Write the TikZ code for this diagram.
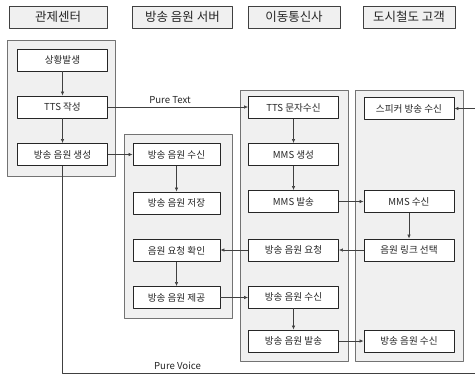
\documentclass[tikz,border=0pt]{standalone}
\usepackage{fontspec}
\setmainfont{Noto Sans CJK KR}
\usetikzlibrary{arrows.meta}
\definecolor{lanegray}{HTML}{F0F0F0}
\definecolor{linegray}{HTML}{404040}
\begin{document}
\begin{tikzpicture}[x=1pt, y=-1pt, line join=round, >={Latex[length=4pt,width=3.5pt]}]
		\tikzset{head/.style={draw=linegray, fill=lanegray, line width=0.9pt, minimum width=98pt, minimum height=22pt, font=\fontsize{12.5}{13}\selectfont, text=black!85}}
		\tikzset{stepbox/.style={draw=black!85, fill=white, line width=0.9pt, minimum width=90pt, minimum height=22pt, inner sep=0pt, font=\fontsize{9.6}{10}\selectfont, text=black!85}}
		\tikzset{lane/.style={draw=black!55, fill=lanegray, line width=0.7pt}}
		\tikzset{flow/.style={->, draw=linegray, line width=0.6pt}}
		\useasboundingbox (0,0) rectangle (475,375);
		% lanes
		\draw[lane] (7,40) rectangle (115,176);
		\draw[lane] (124,134) rectangle (232,318);
		\draw[lane] (240,90) rectangle (348,361);
		\draw[lane] (355,90) rectangle (463,361);
		% headers
		\node[head] (h1) at (58,17) {관제센터};
		\node[head, minimum width=100pt] (h2) at (182.5,17) {방송 음원 서버};
		\node[head, minimum width=92pt] (h3) at (294,17) {이동통신사};
		\node[head, minimum width=92pt] (h4) at (409,17) {도시철도 고객};
		% 관제센터
		\node[stepbox] (a1) at (62.5,60) {상황발생};
		\node[stepbox] (a2) at (62.5,107) {TTS 작성};
		\node[stepbox] (a3) at (62.5,154.5) {방송 음원 생성};
		% 방송 음원 서버
		\node[stepbox, minimum width=87pt] (b1) at (176.5,154.5) {방송 음원 수신};
		\node[stepbox, minimum width=87pt] (b2) at (176.5,203) {방송 음원 저장};
		\node[stepbox, minimum width=87pt] (b3) at (176.5,250.5) {음원 요청 확인};
		\node[stepbox, minimum width=87pt] (b4) at (176.5,297.5) {방송 음원 제공};
		% 이동통신사
		\node[stepbox] (c1) at (293.5,107.5) {TTS 문자수신};
		\node[stepbox] (c2) at (293.5,154.5) {MMS 생성};
		\node[stepbox] (c3) at (293.5,201.5) {MMS 발송};
		\node[stepbox] (c4) at (293.5,250) {방송 음원 요청};
		\node[stepbox] (c5) at (293.5,297) {방송 음원 수신};
		\node[stepbox] (c6) at (293.5,341) {방송 음원 발송};
		% 도시철도 고객
		\node[stepbox] (d1) at (409,108.5) {스피커 방송 수신};
		\node[stepbox] (d2) at (409,201.5) {MMS 수신};
		\node[stepbox] (d3) at (409,250) {음원 링크 선택};
		\node[stepbox] (d4) at (409,341) {방송 음원 수신};
		% connectors
		\draw[flow] (a1) -- (a2);
		\draw[flow] (a2) -- (a3);
		\draw[flow] (a2) -- node[above, font=\fontsize{9.6}{10}\selectfont, text=black!85, xshift=-8pt] {Pure Text} (a2 -| c1.west);
		\draw[flow] (a3) -- (b1);
		\draw[flow] (b1) -- (b2);
		\draw[flow] (b3) -- (b4);
		\draw[flow] (b4) -- (b4 -| c5.west);
		\draw[flow] (c1) -- (c2);
		\draw[flow] (c2) -- (c3);
		\draw[flow] (c3) -- (d2);
		\draw[flow] (d2) -- (d3);
		\draw[flow] (d3) -- (c4);
		\draw[flow] (c4) -- (c4 -| b3.east);
		\draw[flow] (c5) -- (c6);
		\draw[flow] (c6) -- (d4);
		\draw[flow] (a3.south) -- (a3.south |- 0,373) node[pos=1, above right, xshift=88pt, font=\fontsize{9.6}{10}\selectfont, text=black!85] {Pure Voice} -- (485,373) -- (485,108.5) -- (d1.east);
\end{tikzpicture}
\end{document}
